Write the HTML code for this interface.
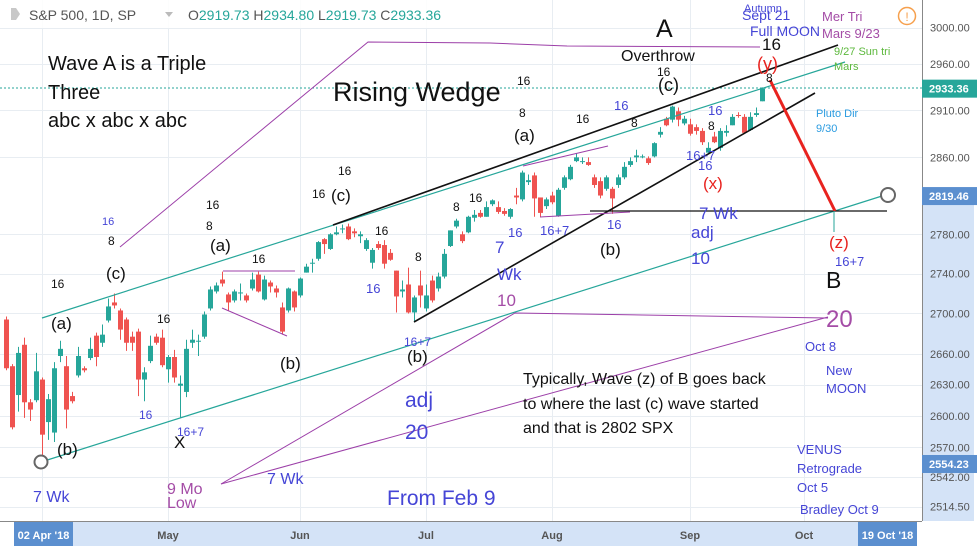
<!DOCTYPE html>
<html><head><meta charset="utf-8"><style>
html,body{margin:0;padding:0;background:#fff;}
svg{display:block;font-family:"Liberation Sans",sans-serif;}
.ann{font-family:"Liberation Sans",sans-serif;}
.bk{fill:#111}.bl{fill:#4545d6}.pu{fill:#a44ca6}.rd{fill:#e8231f}
.ax{font-size:11px;fill:#555}
</style></head><body>
<svg id="chart" width="977" height="546" viewBox="0 0 977 546" xmlns="http://www.w3.org/2000/svg">
<rect x="0" y="0" width="977" height="546" fill="#fff"/>
<g id="grid"></g>
<g id="candles"></g>
<g id="drawings">
  <line x1="0" y1="88" x2="922" y2="88" stroke="#26a69a" stroke-width="1" stroke-dasharray="2,2"/>
  <polyline points="120,247 368,42 490,43 567,46 760,47" fill="none" stroke="#9c3fa8" stroke-width="1"/>
  <line x1="42" y1="318" x2="845" y2="62" stroke="#26a69a" stroke-width="1.2"/>
  <line x1="41" y1="462" x2="882" y2="196" stroke="#26a69a" stroke-width="1.2"/>
  <line x1="333" y1="225" x2="838" y2="45" stroke="#111" stroke-width="1.6"/>
  <line x1="414" y1="322" x2="815" y2="93" stroke="#111" stroke-width="1.6"/>
  <line x1="590" y1="211" x2="887" y2="211" stroke="#111" stroke-width="1.2"/>
  <line x1="770" y1="80" x2="835" y2="211" stroke="#e8231f" stroke-width="3"/>
  <line x1="834" y1="211" x2="834" y2="232" stroke="#26a69a" stroke-width="1"/>
  <line x1="223" y1="271" x2="295" y2="271" stroke="#9c3fa8" stroke-width="1"/>
  <line x1="222" y1="308" x2="287" y2="336" stroke="#9c3fa8" stroke-width="1"/>
  <line x1="523" y1="166" x2="608" y2="146" stroke="#9c3fa8" stroke-width="1"/>
  <line x1="540" y1="217" x2="630" y2="212" stroke="#9c3fa8" stroke-width="1"/>
  <polyline points="221,484 515,313 828,318" fill="none" stroke="#9c3fa8" stroke-width="1"/>
  <line x1="221" y1="484" x2="828" y2="317" stroke="#9c3fa8" stroke-width="1"/>
  <circle cx="41" cy="462" r="6.5" fill="#fff" stroke="#666" stroke-width="2"/>
  <circle cx="888" cy="195" r="7" fill="#fff" stroke="#666" stroke-width="2"/>
</g>
<g id="annotations" class="ann">
  <text x="48" y="70" font-size="20" class="bk">Wave A is a Triple</text>
  <text x="48" y="99" font-size="20" class="bk">Three</text>
  <text x="48" y="127" font-size="20" class="bk">abc x abc x abc</text>
  <text x="333" y="101" font-size="27" class="bk">Rising Wedge</text>
  <text x="656" y="37" font-size="25" class="bk">A</text>
  <text x="621" y="61" font-size="16" class="bk">Overthrow</text>
  <text x="762" y="50" font-size="17" class="bk">16</text>
  <text x="757" y="70" font-size="18" class="rd">(y)</text>
  <text x="766" y="82" font-size="12" class="bk">8</text>
  <text x="744" y="12" font-size="11" class="bl">Autumn</text>
  <text x="742" y="20" font-size="14" class="bl">Sept 21</text>
  <text x="750" y="36" font-size="14" class="bl">Full MOON</text>
  <text x="822" y="21" font-size="13" class="pu">Mer Tri</text>
  <text x="822" y="38" font-size="13" class="pu">Mars 9/23</text>
  <text x="834" y="55" font-size="11" fill="#5cb83c">9/27 Sun tri</text>
  <text x="834" y="70" font-size="11" fill="#5cb83c">Mars</text>
  <text x="816" y="117" font-size="11" fill="#2a9be0">Pluto Dir</text>
  <text x="816" y="132" font-size="11" fill="#2a9be0">9/30</text>
  <text x="703" y="189" font-size="17" class="rd">(x)</text>
  <text x="699" y="219" font-size="17" class="bl">7 Wk</text>
  <text x="691" y="238" font-size="17" class="bl">adj</text>
  <text x="691" y="264" font-size="17" class="bl">10</text>
  <text x="829" y="248" font-size="17" class="rd">(z)</text>
  <text x="835" y="266" font-size="13" class="bl">16+7</text>
  <text x="826" y="288" font-size="23" class="bk">B</text>
  <text x="826" y="327" font-size="24" class="pu">20</text>
  <text x="805" y="351" font-size="13" class="bl">Oct 8</text>
  <text x="826" y="375" font-size="13" class="bl">New</text>
  <text x="826" y="393" font-size="13" class="bl">MOON</text>
  <text x="523" y="384" font-size="16" class="bk">Typically, Wave (z) of B goes back</text>
  <text x="523" y="409" font-size="16" class="bk">to where the last (c) wave started</text>
  <text x="523" y="433" font-size="16" class="bk">and that is 2802 SPX</text>
  <text x="797" y="454" font-size="13" class="bl">VENUS</text>
  <text x="797" y="473" font-size="13" class="bl">Retrograde</text>
  <text x="797" y="492" font-size="13" class="bl">Oct 5</text>
  <text x="800" y="514" font-size="13" class="bl">Bradley Oct 9</text>
  <text x="387" y="505" font-size="21" class="bl">From Feb 9</text>
  <text x="405" y="407" font-size="21" class="bl">adj</text>
  <text x="405" y="439" font-size="21" class="bl">20</text>
  <text x="267" y="484" font-size="16" class="bl">7 Wk</text>
  <text x="167" y="494" font-size="16" class="pu">9 Mo</text>
  <text x="167" y="508" font-size="16" class="pu">Low</text>
  <text x="33" y="502" font-size="16" class="bl">7 Wk</text>
  <text x="57" y="455" font-size="17" class="bk">(b)</text>
  <text x="174" y="448" font-size="17" class="bk">X</text>
  <text x="177" y="436" font-size="12" class="bl">16+7</text>
  <text x="139" y="419" font-size="12" class="bl">16</text>
  <text x="51" y="329" font-size="17" class="bk">(a)</text>
  <text x="106" y="279" font-size="17" class="bk">(c)</text>
  <text x="51" y="288" font-size="12" class="bk">16</text>
  <text x="102" y="225" font-size="11" class="bl">16</text>
  <text x="108" y="245" font-size="12" class="bk">8</text>
  <text x="210" y="251" font-size="17" class="bk">(a)</text>
  <text x="206" y="230" font-size="12" class="bk">8</text>
  <text x="206" y="209" font-size="12" class="bk">16</text>
  <text x="157" y="323" font-size="12" class="bk">16</text>
  <text x="280" y="369" font-size="17" class="bk">(b)</text>
  <text x="252" y="263" font-size="12" class="bk">16</text>
  <text x="366" y="293" font-size="13" class="bl">16</text>
  <text x="312" y="198" font-size="12" class="bk">16</text>
  <text x="331" y="201" font-size="17" class="bk">(c)</text>
  <text x="338" y="175" font-size="12" class="bk">16</text>
  <text x="375" y="235" font-size="12" class="bk">16</text>
  <text x="415" y="261" font-size="12" class="bk">8</text>
  <text x="404" y="346" font-size="12" class="bl">16+7</text>
  <text x="407" y="362" font-size="17" class="bk">(b)</text>
  <text x="453" y="211" font-size="12" class="bk">8</text>
  <text x="469" y="202" font-size="12" class="bk">16</text>
  <text x="508" y="237" font-size="13" class="bl">16</text>
  <text x="540" y="235" font-size="13" class="bl">16+7</text>
  <text x="607" y="229" font-size="13" class="bl">16</text>
  <text x="600" y="255" font-size="17" class="bk">(b)</text>
  <text x="495" y="253" font-size="17" class="bl">7</text>
  <text x="497" y="280" font-size="17" class="bl">Wk</text>
  <text x="497" y="306" font-size="17" class="pu">10</text>
  <text x="517" y="85" font-size="12" class="bk">16</text>
  <text x="519" y="117" font-size="12" class="bk">8</text>
  <text x="514" y="141" font-size="17" class="bk">(a)</text>
  <text x="576" y="123" font-size="12" class="bk">16</text>
  <text x="614" y="110" font-size="13" class="bl">16</text>
  <text x="631" y="127" font-size="12" class="bk">8</text>
  <text x="657" y="76" font-size="12" class="bk">16</text>
  <text x="658" y="91" font-size="18" class="bk">(c)</text>
  <text x="708" y="115" font-size="13" class="bl">16</text>
  <text x="708" y="130" font-size="12" class="bk">8</text>
  <text x="686" y="160" font-size="13" class="bl">16+7</text>
  <text x="698" y="170" font-size="13" class="bl">16</text>
</g>
<g id="price-axis">
  <rect x="922" y="0" width="55" height="521" fill="#fff"/>
  <rect x="922" y="195" width="52" height="326" fill="#d4e3f7"/>
  <line x1="922.5" y1="0" x2="922.5" y2="521" stroke="#888" stroke-width="1"/>
</g>
<g id="time-axis">
  <rect x="0" y="521" width="977" height="25" fill="#fff"/>
  <rect x="43" y="522" width="845" height="24" fill="#d4e3f7"/>
  <line x1="0" y1="521.5" x2="922" y2="521.5" stroke="#888" stroke-width="1"/>
</g>
<g id="axis-labels"></g>
<g id="header">
  <rect x="0" y="0" width="440" height="28" fill="#fff" opacity="0.85"/>
  <path d="M11 8 L16 8 L16 20 L11 20 Z M16 8 L20 14 L16 20 Z" fill="#c8c8c8"/>
  <text x="29" y="20" font-size="14" fill="#555">S&amp;P 500, 1D, SP</text>
  <path d="M165 12 L173 12 L169 17 Z" fill="#bbb"/>
  <text x="188" y="20" font-size="14" fill="#555">O<tspan fill="#26a69a">2919.73</tspan>  H<tspan fill="#26a69a">2934.80</tspan>  L<tspan fill="#26a69a">2919.73</tspan>  C<tspan fill="#26a69a">2933.36</tspan></text>
  <circle cx="907" cy="16" r="8.5" fill="#fff" stroke="#f6a04d" stroke-width="1.5"/>
  <text x="907" y="21" font-size="12" fill="#f6a04d" text-anchor="middle">!</text>
</g>
</svg>
<script>
const opens=[2694,2648,2620,2669,2613,2615,2635,2594,2584,2658,2648,2619,2639,2646,2656,2678,2671,2693,2711,2703,2694,2677,2682,2635,2653,2677,2676,2645,2657,2629,2623,2671,2672,2677,2705,2722,2734,2719,2713,2720,2718,2725,2739,2714,2731,2725,2706,2703,2722,2718,2741,2750,2755,2775,2765,2780,2785,2788,2783,2778,2765,2751,2770,2769,2761,2743,2722,2729,2701,2728,2705,2733,2725,2737,2768,2788,2780,2782,2797,2802,2798,2811,2808,2804,2798,2820,2816,2834,2841,2818,2809,2820,2799,2828,2837,2856,2855,2855,2839,2835,2827,2827,2831,2839,2852,2860,2860,2859,2861,2884,2901,2900,2909,2896,2895,2892,2888,2865,2882,2870,2886,2894,2905,2903,2889,2905,2919.73];
const highs=[2697,2650,2667,2676,2616,2661,2637,2621,2652,2673,2658,2623,2667,2648,2676,2681,2689,2715,2720,2705,2696,2682,2685,2647,2678,2680,2684,2659,2664,2639,2674,2684,2679,2702,2727,2731,2742,2721,2724,2730,2720,2741,2742,2738,2733,2728,2711,2726,2723,2736,2750,2755,2773,2776,2781,2788,2790,2791,2786,2783,2776,2766,2773,2774,2765,2743,2733,2746,2718,2743,2729,2738,2741,2765,2784,2796,2783,2799,2805,2805,2814,2816,2814,2807,2807,2828,2846,2842,2844,2818,2818,2824,2828,2841,2852,2864,2860,2860,2842,2839,2841,2829,2842,2855,2860,2868,2863,2861,2876,2892,2903,2915,2913,2904,2901,2895,2891,2876,2887,2891,2894,2906,2908,2906,2908,2913,2934.80];
const lows=[2644,2587,2604,2598,2595,2613,2554,2577,2575,2652,2588,2612,2637,2642,2654,2648,2667,2691,2705,2674,2663,2663,2619,2614,2651,2669,2647,2632,2632,2598,2618,2666,2658,2675,2703,2720,2727,2703,2711,2713,2711,2723,2721,2713,2721,2716,2679,2701,2702,2716,2741,2741,2753,2760,2764,2779,2781,2774,2777,2771,2763,2745,2764,2745,2753,2701,2716,2700,2692,2706,2702,2711,2722,2735,2767,2786,2771,2781,2793,2797,2798,2809,2801,2799,2796,2811,2814,2831,2798,2798,2806,2811,2798,2826,2836,2855,2853,2851,2828,2817,2825,2801,2828,2837,2850,2855,2859,2852,2860,2881,2893,2897,2893,2894,2883,2884,2873,2863,2875,2867,2882,2894,2902,2885,2888,2903,2919.73];
const closes=[2646,2589,2661,2613,2606,2643,2582,2616,2646,2665,2606,2614,2658,2644,2665,2657,2679,2707,2708,2684,2671,2671,2635,2642,2668,2671,2649,2657,2637,2631,2665,2674,2673,2699,2724,2728,2730,2711,2722,2721,2713,2734,2722,2734,2727,2721,2682,2725,2706,2735,2747,2751,2772,2770,2780,2782,2786,2775,2781,2780,2774,2764,2766,2750,2754,2717,2724,2701,2716,2718,2718,2713,2737,2760,2784,2794,2773,2798,2800,2798,2808,2815,2803,2801,2806,2818,2844,2836,2817,2802,2816,2813,2826,2839,2850,2860,2856,2852,2831,2820,2839,2817,2839,2850,2856,2862,2861,2854,2875,2887,2894,2914,2900,2901,2885,2888,2876,2870,2876,2888,2888,2903,2904,2886,2903,2907,2933.36];
const priceTicks=[3000,2960,2910,2860,2780,2740,2700,2660,2630,2600,2570,2542,2514.5];
const timeTickIdx=[27,49,70,91,114,133];
const timeTickLabels=["May","Jun","Jul","Aug","Sep","Oct"];
const priceBoxes=[2933.36,2819.46,2554.23];
const NS="http://www.w3.org/2000/svg";
function yScale(p){return 21741-2712*Math.log(p);}
function xScale(i){return 6+6*i;}
function mk(tag,attrs,parent){const e=document.createElementNS(NS,tag);for(const k in attrs)e.setAttribute(k,attrs[k]);parent.appendChild(e);return e;}
const grid=document.getElementById('grid');
priceTicks.forEach(p=>{
  const y=Math.round(yScale(p))+0.5;
  const l=mk('line',{x1:0,x2:922,y1:y,y2:y,stroke:'#e8edf2','stroke-width':1},grid);
  
  
});
[6].concat(timeTickIdx).forEach(i=>{
  const x=xScale(i)+0.5;
  const l=mk('line',{x1:x,x2:x,y1:0,y2:521,stroke:'#e8edf2','stroke-width':1},grid);
  
  
});
const cg=document.getElementById('candles');
for(let i=0;i<closes.length;i++){
  const up=closes[i]>=opens[i];
  const col=up?'#26a69a':'#ef5350';
  const x=xScale(i);
  const w=mk('line',{x1:x+0.5,x2:x+0.5,y1:yScale(highs[i]),y2:yScale(lows[i]),stroke:col,'stroke-width':1},cg);
  
  
  const top=yScale(Math.max(opens[i],closes[i])),bot=yScale(Math.min(opens[i],closes[i]));
  const b=mk('rect',{x:x-2,y:top,width:5,height:Math.max(1,bot-top),fill:col},cg);
  
  
}
const al=document.getElementById('axis-labels');
priceTicks.forEach(p=>{
  const t=mk('text',{x:930,y:yScale(p)+4,class:'ax'},al);
  t.textContent=p.toFixed(2);
  
  
});
const boxCols=['#26a69a','#5b8fcf','#5b8fcf'];
priceBoxes.forEach((p,k)=>{
  const y=yScale(p);
  const r=mk('rect',{x:922,y:y-9,width:55,height:18,fill:boxCols[k]},al);
  
  
  const t=mk('text',{x:929,y:y+4,'font-size':11,fill:'#fff','font-weight':'bold'},al);
  t.textContent=p.toFixed(2);
  
  
});
timeTickIdx.forEach((i,k)=>{
  const t=mk('text',{x:xScale(i),y:539,class:'ax','text-anchor':'middle','font-weight':'bold',fill:'#666'},al);
  t.textContent=timeTickLabels[k];
  
  
});
[[14,"02 Apr '18"],[858,"19 Oct '18"]].forEach(d=>{
  const r=mk('rect',{x:d[0],y:522,width:59,height:24,fill:'#5b8fcf'},al);
  
  
  const t=mk('text',{x:d[0]+29.5,y:539,'font-size':11,fill:'#fff','font-weight':'bold','text-anchor':'middle'},al);
  t.textContent=d[1];
  
  
});
</script>
</body></html>
